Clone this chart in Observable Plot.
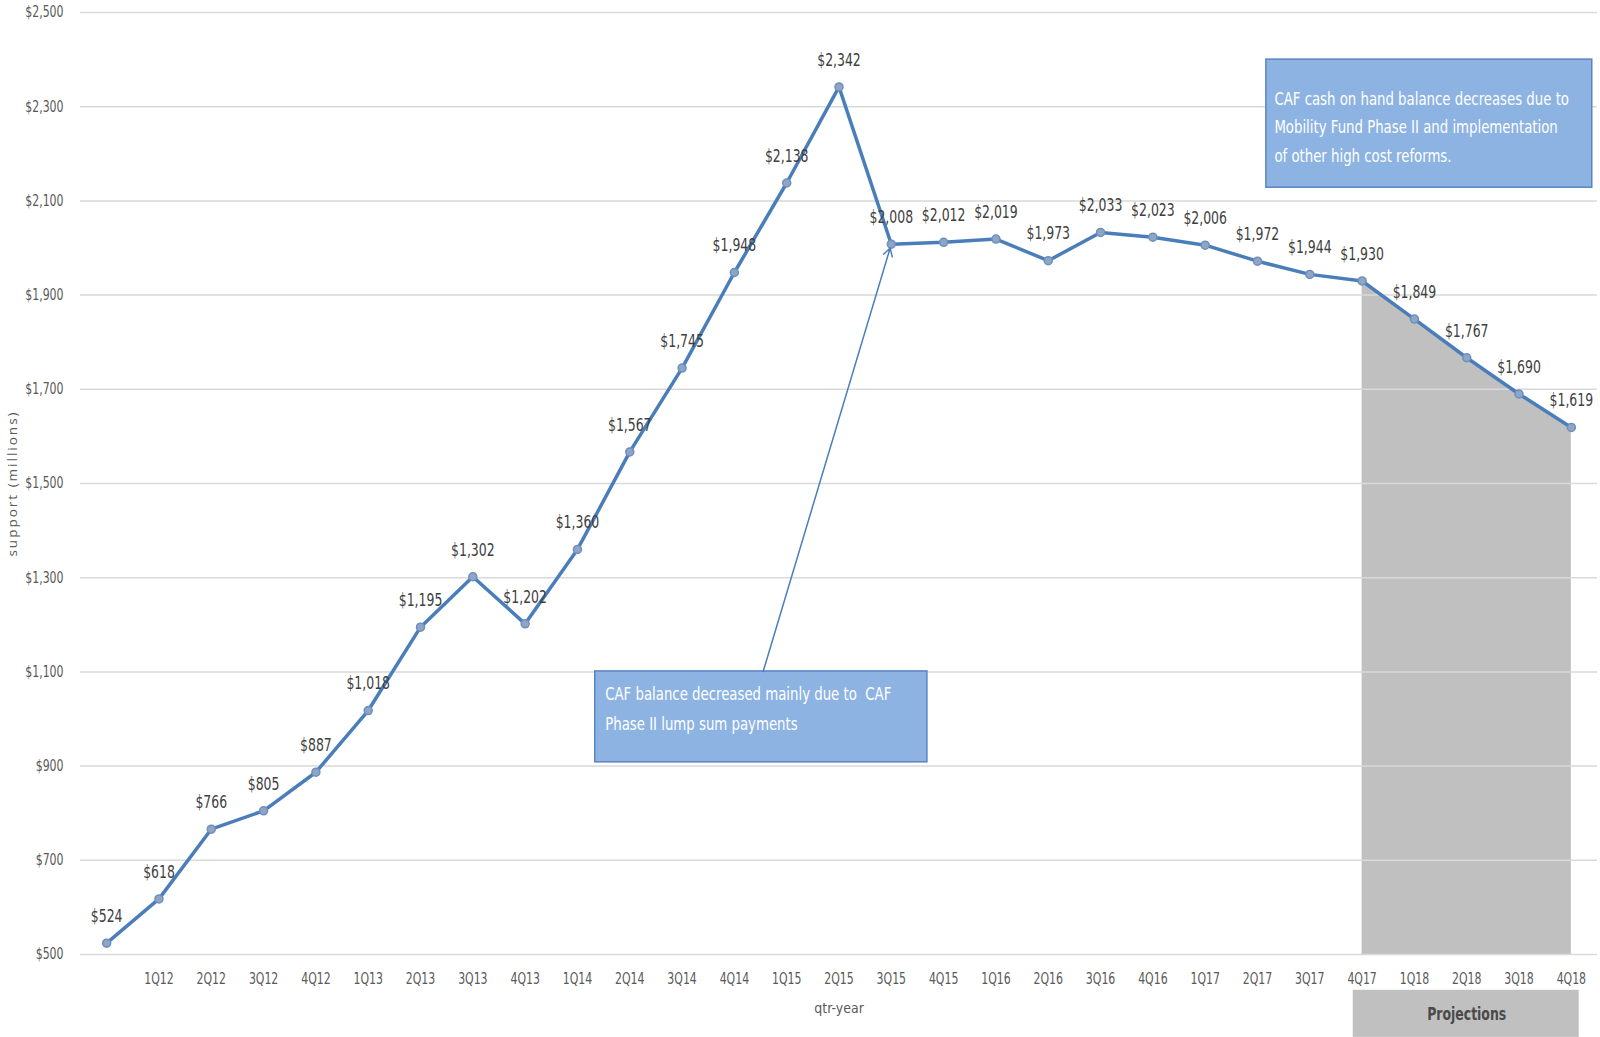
<!DOCTYPE html>
<html>
<head>
<meta charset="utf-8">
<script src="https://cdn.jsdelivr.net/npm/d3@7"></script>
<script src="https://cdn.jsdelivr.net/npm/@observablehq/plot@0.6"></script>
<style>
  html, body { margin: 0; padding: 0; background: #fff; }
  #chart svg { display: block; }
</style>
</head>
<body>
<div id="chart"></div>
<script>
// Quarter labels along the x axis (the first quarter carries no label)
const quarters = ["", "1Q12", "2Q12", "3Q12", "4Q12", "1Q13", "2Q13", "3Q13", "4Q13",
  "1Q14", "2Q14", "3Q14", "4Q14", "1Q15", "2Q15", "3Q15", "4Q15", "1Q16", "2Q16",
  "3Q16", "4Q16", "1Q17", "2Q17", "3Q17", "4Q17", "1Q18", "2Q18", "3Q18", "4Q18"];

// CAF cash-on-hand balance, $ millions
const balance = [524, 618, 766, 805, 887, 1018, 1195, 1302, 1202, 1360, 1567, 1745,
  1948, 2138, 2342, 2008, 2012, 2019, 1973, 2033, 2023, 2006, 1972, 1944, 1930,
  1849, 1767, 1690, 1619];

// y axis ticks
const yTicks = [500, 700, 900, 1100, 1300, 1500, 1700, 1900, 2100, 2300, 2500];

// projections begin at 4Q17
const projectionStart = quarters.indexOf("4Q17");

// call-out notes (positions in quarter index / $ millions)
const noteLump = {
  text: "CAF balance decreased mainly due to  CAF\nPhase II lump sum payments",
  x1: 9.34, x2: 15.69, y1: 908, y2: 1101
};
const noteMobility = {
  text: "CAF cash on hand balance decreases due to\nMobility Fund Phase II and implementation\nof other high cost reforms.",
  x1: 22.17, x2: 28.4, y1: 2128, y2: 2400
};
// arrow from the lump-sum note to the 3Q15 balance
const lumpArrow = [{x1: 12.55, y1: 1101, x2: quarters.indexOf("3Q15"), y2: balance[quarters.indexOf("3Q15")]}];
// "Projections" tab under the axis
const projTab = {text: "Projections", x1: 23.83, x2: 28.15, y1: 324, y2: 424, x: 26, y: 373};

const data = quarters.map((q, i) => ({i, q, v: balance[i]}));
const projected = data.filter(d => d.i >= projectionStart);
const money = d3.format(",");

const font = "'Liberation Sans Narrow', 'DejaVu Sans Condensed', 'Roboto Condensed', sans-serif";

// horizontal squeeze per font size, for a narrow typeface look
const squeeze = {"18": 0.77, "17": 0.87, "15": 0.81};

const chart = Plot.plot({
  width: 1600,
  height: 1037,
  marginLeft: 80,
  marginRight: 3,
  marginTop: 12,
  marginBottom: 83,
  style: {fontFamily: font, background: "#fff"},
  x: {type: "linear", domain: [-0.5, quarters.length - 0.5]},
  y: {domain: [500, 2500]},
  marks: [
    // shaded projection region
    Plot.areaY(projected, {x: "i", y1: 500, y2: "v", fill: "#c0c0c0"}),
    Plot.gridY(yTicks, {stroke: "#d9d9d9", strokeOpacity: 1, strokeWidth: 1.5}),
    Plot.axisY(yTicks, {
      tickFormat: d => "$" + money(d), tickSize: 0, tickPadding: 17,
      fontSize: 15, color: "#595959", label: null
    }),
    Plot.axisX(d3.range(1, quarters.length), {
      tickFormat: i => quarters[i], tickSize: 0, tickPadding: 19,
      fontSize: 15, color: "#595959", label: null
    }),
    Plot.text(["qtr-year"], {frameAnchor: "bottom", dy: 58, fontSize: 14, fill: "#595959"}),
    Plot.text(["support (millions)"], {
      frameAnchor: "left", textAnchor: "middle", rotate: -90, dx: -68, fontSize: 13.5,
      fill: "#595959", fontFamily: "'Open Sans', sans-serif"
    }),
    // balance series
    Plot.line(data, {x: "i", y: "v", stroke: "#4a7ebb", strokeWidth: 3.5}),
    Plot.dot(data, {x: "i", y: "v", r: 4, fill: "#8fa5c3", stroke: "#6d8fbf", strokeWidth: 1.5}),
    Plot.text(data, {
      x: "i", y: "v", text: d => "$" + money(d.v), dy: -27,
      fontSize: 18, fill: "#404040"
    }),
    // call-out boxes
    Plot.rect([noteLump, noteMobility], {
      x1: "x1", x2: "x2", y1: "y1", y2: "y2",
      fill: "#8db3e2", stroke: "#5a84c2", strokeWidth: 1.5
    }),
    Plot.text([noteLump], {
      x: "x1", y: "y2", text: "text", textAnchor: "start", lineAnchor: "top",
      dx: 10, dy: 7, lineHeight: 1.76, fontSize: 17, fill: "#fff"
    }),
    Plot.text([noteMobility], {
      x: "x1", y: "y2", text: "text", textAnchor: "start", lineAnchor: "top",
      dx: 8, dy: 25, lineHeight: 1.68, fontSize: 17, fill: "#fff"
    }),
    Plot.arrow(lumpArrow, {
      x1: "x1", y1: "y1", x2: "x2", y2: "y2",
      stroke: "#4a7ebb", strokeWidth: 1.5, headLength: 9, insetEnd: 4, bend: 0
    }),
    // projections tab
    Plot.rect([projTab], {x1: "x1", x2: "x2", y1: "y1", y2: "y2", fill: "#c0c0c0"}),
    Plot.text([projTab], {
      x: "x", y: "y", text: "text", fontSize: 18, fontWeight: "bold", fill: "#4a4a4a"
    })
  ]
});

// narrow the lettering: scale each text horizontally about its own anchor
for (const el of chart.querySelectorAll("[font-size]")) {
  const sx = squeeze[el.getAttribute("font-size")];
  if (!sx) continue;
  const texts = el.tagName === "text" ? [el] : el.querySelectorAll("text");
  for (const t of texts) {
    const tr = t.getAttribute("transform");
    if (tr) {
      t.setAttribute("transform", `${tr} scale(${sx},1)`);
    } else {
      const x = +t.getAttribute("x") || 0, y = +t.getAttribute("y") || 0;
      t.removeAttribute("x");
      t.removeAttribute("y");
      t.setAttribute("transform", `translate(${x},${y}) scale(${sx},1)`);
    }
  }
}

// spaced-out lettering for the y axis title
for (const t of chart.querySelectorAll("text")) {
  if (t.textContent === "support (millions)") t.setAttribute("letter-spacing", "2");
}

document.getElementById("chart").appendChild(chart);
</script>
</body>
</html>
